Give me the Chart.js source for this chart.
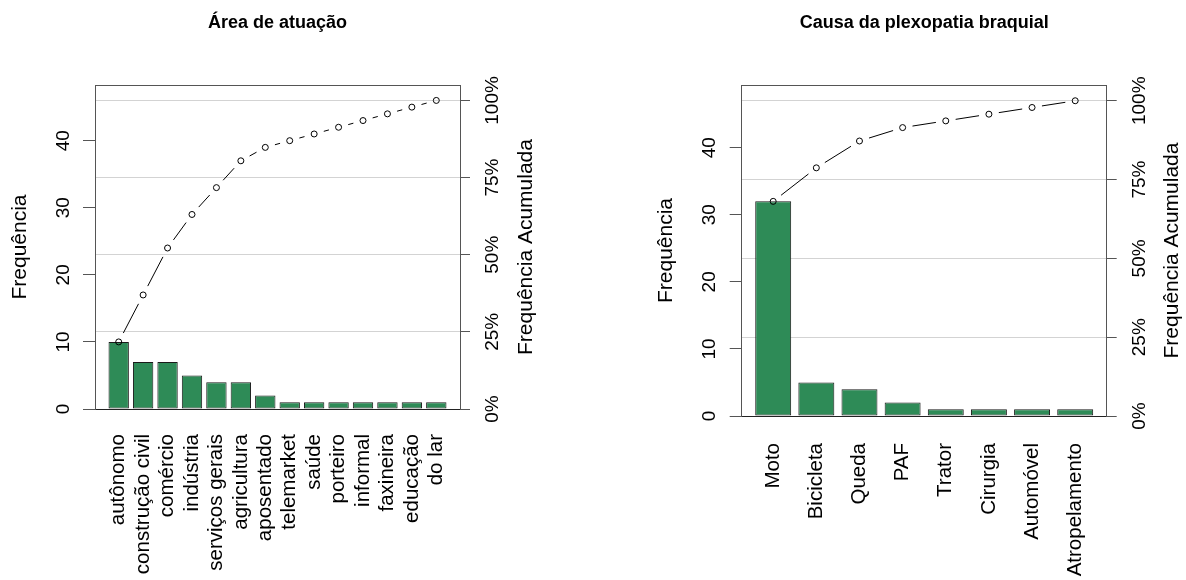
<!DOCTYPE html>
<html lang="pt">
<head>
<meta charset="utf-8">
<title>Pareto - área de atuação e causa</title>
<script src="https://cdn.jsdelivr.net/npm/chart.js@4.4.1/dist/chart.umd.min.js"></script>
<style>
  html, body { margin: 0; padding: 0; background: #fff; }
  .panel { position: absolute; top: 0; width: 593px; height: 580px; }
</style>
</head>
<body>
<div class="panel" style="left:0"><canvas id="areaChart"></canvas></div>
<div class="panel" style="left:593px"><canvas id="causaChart"></canvas></div>

<script>
// --- data ---
const areaLabels = ['autônomo', 'construção civil', 'comércio', 'indústria', 'serviços gerais',
  'agricultura', 'aposentado', 'telemarket', 'saúde', 'porteiro', 'informal', 'faxineira',
  'educação', 'do lar'];
const areaCounts = [10, 7, 7, 5, 4, 4, 2, 1, 1, 1, 1, 1, 1, 1];

const causaLabels = ['Moto', 'Bicicleta', 'Queda', 'PAF', 'Trator', 'Cirurgia', 'Automóvel', 'Atropelamento'];
const causaCounts = [32, 5, 4, 2, 1, 1, 1, 1];

const countTicks = [0, 10, 20, 30, 40];
const pctTicks = [0, 25, 50, 75, 100];

// --- look ---
const FONT = '"Liberation Sans", Arial, Helvetica, sans-serif';
const BAR_FILL = '#2E8B57';
const BAR_EDGE = '#1a1a1a';
const AXIS = '#555';
const GRID = '#d3d3d3';
const BAR_WIDTH = 1, BAR_SPACE = 0.2;   // barplot(space = 0.2)
const LINE_GAP = 10;                    // gap left around each point, like type = "b"

Chart.defaults.font.family = FONT;
Chart.defaults.color = '#000';

// draws the top of the box and the right-hand axis title (read bottom to top)
const framePlugin = {
  id: 'frame',
  afterDraw(chart, args, opts) {
    const { ctx, chartArea: a } = chart;
    ctx.save();
    ctx.strokeStyle = AXIS;
    ctx.lineWidth = 1;
    ctx.beginPath();
    ctx.moveTo(a.left, Math.round(a.top) + 0.5);
    ctx.lineTo(a.right, Math.round(a.top) + 0.5);
    ctx.stroke();

    ctx.translate(a.right + opts.titleGap, (a.top + a.bottom) / 2);
    ctx.rotate(-Math.PI / 2);
    ctx.font = '21px ' + FONT;
    ctx.fillStyle = '#000';
    ctx.textAlign = 'center';
    ctx.textBaseline = 'middle';
    ctx.fillText(opts.text, 0, 0);
    ctx.restore();
  }
};

// dash pattern that leaves a gap at both ends of every segment
function gappedDash(ctx) {
  const len = Math.hypot(ctx.p1.x - ctx.p0.x, ctx.p1.y - ctx.p0.y);
  const run = Math.max(len - 2 * LINE_GAP, 0);
  return [0, LINE_GAP, run, Math.max(len - LINE_GAP - run, 0.1)];
}

function paretoChart(canvasId, labels, counts, title, box) {
  const total = counts.reduce((s, v) => s + v, 0);
  let acc = 0;
  const cumulative = counts.map(v => (acc += v));
  const centers = labels.map((_, i) => BAR_SPACE + BAR_WIDTH / 2 + i * (BAR_WIDTH + BAR_SPACE));

  // x range of the bars, widened 4% on each side
  const lo = BAR_SPACE, hi = labels.length * (BAR_WIDTH + BAR_SPACE);
  const ext = (hi - lo) * 0.04;

  return new Chart(document.getElementById(canvasId), {
    type: 'bar',
    data: {
      datasets: [{
        type: 'line',
        data: cumulative.map((y, i) => ({ x: centers[i], y })),
        borderColor: '#000',
        borderWidth: 1,
        pointRadius: 3,
        pointBorderWidth: 1,
        pointBorderColor: '#000',
        pointBackgroundColor: 'rgba(0,0,0,0)',
        segment: { borderDash: gappedDash },
        order: 0
      }, {
        data: counts.map((y, i) => ({ x: centers[i], y })),
        backgroundColor: BAR_FILL,
        borderColor: BAR_EDGE,
        borderWidth: 1,
        borderSkipped: false,
        categoryPercentage: 1,
        barPercentage: BAR_WIDTH / (BAR_WIDTH + BAR_SPACE),
        order: 1
      }]
    },
    options: {
      responsive: true,
      maintainAspectRatio: false,
      animation: false,
      layout: { padding: 0 },
      plugins: {
        legend: { display: false },
        tooltip: { enabled: false },
        title: {
          display: true,
          text: title,
          fullSize: false,
          color: '#000',
          font: { size: 18, weight: 'bold', family: FONT },
          padding: { top: 12, bottom: box.top - 12 - 21.6 }
        },
        frame: { text: 'Frequência Acumulada', titleGap: 66 }
      },
      scales: {
        x: {
          type: 'linear',
          offset: false,
          min: lo - ext,
          max: hi + ext,
          afterBuildTicks: s => { s.ticks = centers.map(value => ({ value })); },
          afterFit: s => { s.height = 580 - box.bottom; },
          ticks: {
            autoSkip: false,
            minRotation: 90,
            maxRotation: 90,
            padding: box.labelPad,
            font: { size: 20.5 },
            callback: (v, i) => labels[i]
          },
          grid: { display: false, drawTicks: false, offset: false },
          border: { display: true, color: '#222' }
        },
        y: {
          position: 'left',
          min: 0,
          max: total * 1.05,
          afterBuildTicks: s => { s.ticks = countTicks.map(value => ({ value })); },
          afterFit: s => { s.width = box.left; },
          ticks: {
            minRotation: 90,
            maxRotation: 90,
            crossAlign: 'center',
            padding: 9,
            font: { size: 19 }
          },
          grid: { drawOnChartArea: false, tickLength: 12, tickColor: AXIS },
          border: { display: true, color: AXIS },
          title: {
            display: true,
            text: 'Frequência',
            font: { size: 21 },
            padding: { top: box.left - 75 - 12.6, bottom: 0 }
          }
        },
        y2: {
          position: 'right',
          min: 0,
          max: 105,
          afterBuildTicks: s => { s.ticks = pctTicks.map(value => ({ value })); },
          afterFit: s => { s.width = 593 - box.right; },
          ticks: {
            minRotation: 90,
            maxRotation: 90,
            crossAlign: 'center',
            padding: -1.3,
            font: { size: 19 },
            callback: v => v + '%'
          },
          grid: {
            drawOnChartArea: true,
            color: c => (c.tick && c.tick.value === 0 ? 'rgba(0,0,0,0)' : GRID),
            tickLength: 10,
            tickColor: AXIS
          },
          border: { display: true, color: AXIS }
        }
      }
    },
    plugins: [framePlugin]
  });
}

paretoChart('areaChart', areaLabels, areaCounts, 'Área de atuação',
  { left: 95, right: 460, top: 85, bottom: 409, labelPad: 25 });
paretoChart('causaChart', causaLabels, causaCounts, 'Causa da plexopatia braquial',
  { left: 148.7, right: 513.7, top: 85, bottom: 416, labelPad: 27 });
</script>
</body>
</html>
